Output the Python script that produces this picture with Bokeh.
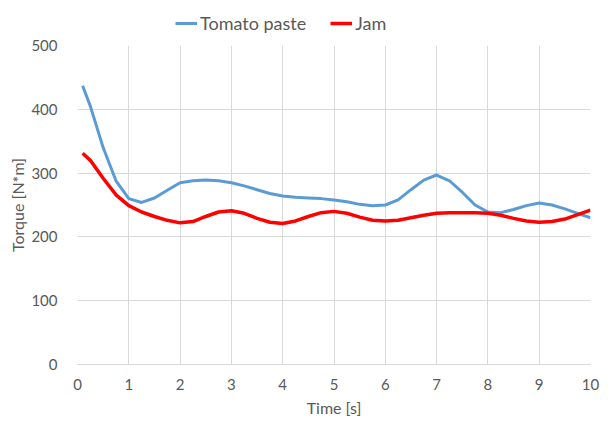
from bokeh.plotting import figure
from bokeh.layouts import column
from bokeh.models import Legend, LegendItem, Range1d, FixedTicker
from bokeh.embed import file_html
from bokeh.resources import INLINE

time_s = [0.1, 0.25, 0.5, 0.75, 1.0, 1.25, 1.5, 1.75, 2.0, 2.25, 2.5, 2.75, 3.0, 3.25, 3.5, 3.75,
          4.0, 4.25, 4.5, 4.75, 5.0, 5.25, 5.5, 5.75, 6.0, 6.25, 6.5, 6.75, 7.0, 7.25, 7.5, 7.75,
          8.0, 8.25, 8.5, 8.75, 9.0, 9.25, 9.5, 9.75, 10.0]
tomato_paste = [437, 405, 340, 288, 260, 254, 261, 273, 285, 288, 289, 288, 285, 280, 274, 268,
                264, 262, 261, 260, 258, 255, 251, 249, 250, 258, 274, 289, 297, 288, 270, 250,
                239, 238, 243, 249, 253, 250, 244, 237, 230]
jam = [331, 320, 292, 266, 249, 239, 232, 226, 222, 224, 232, 239, 241, 237, 229, 223,
       221, 225, 232, 238, 240, 237, 231, 226, 225, 226, 230, 234, 237, 238, 238, 238,
       237, 234, 229, 225, 223, 224, 228, 235, 242]
series_names = ["Tomato paste", "Jam"]
x_ticks = [0, 1, 2, 3, 4, 5, 6, 7, 8, 9, 10]
y_ticks = [0, 100, 200, 300, 400, 500]

FONT = "Lato"
TEXT = "#595959"
GRID = "#d9d9d9"
BLUE = "#5B9BD5"
RED = "#FF0000"

# legend strip (its lines lie outside its tiny range, only the legend shows)
top = figure(width=602, height=36, output_backend="svg", toolbar_location=None,
             x_axis_location=None, y_axis_location=None,
             min_border_left=0, min_border_right=0, min_border_top=0, min_border_bottom=0,
             x_range=Range1d(-2, -1), y_range=Range1d(-2, -1))
top.grid.visible = False
top.outline_line_color = None
l1 = top.line(time_s, tomato_paste, line_color=BLUE, line_width=3)
l2 = top.line(time_s, jam, line_color=RED, line_width=3.5)
legend = Legend(items=[LegendItem(label=series_names[0], renderers=[l1]),
                       LegendItem(label=series_names[1], renderers=[l2])],
                orientation="horizontal", location=(98, 2))
legend.label_text_font = FONT
legend.label_text_font_size = "18px"
legend.label_text_color = TEXT
legend.border_line_color = None
legend.background_fill_alpha = 0
legend.glyph_width = 22
legend.glyph_height = 20
legend.label_height = 20
legend.label_standoff = 3
legend.spacing = 24
legend.padding = 0
legend.margin = 0
top.add_layout(legend, "center")

p = figure(output_backend="svg", toolbar_location=None,
           frame_width=513, frame_height=319,
           x_range=Range1d(0, 10), y_range=Range1d(0, 500),
           min_border_left=77, min_border_right=12, min_border_top=9, min_border_bottom=60)
p.outline_line_color = None

p.line(time_s, tomato_paste, line_color=BLUE, line_width=3, line_join="round")
p.line(time_s, jam, line_color=RED, line_width=3.5, line_join="round")

p.xaxis.ticker = FixedTicker(ticks=x_ticks)
p.yaxis.ticker = FixedTicker(ticks=y_ticks)
for ax in (p.xaxis, p.yaxis):
    ax.major_tick_line_color = None
    ax.minor_tick_line_color = None
    ax.major_label_text_font = FONT
    ax.major_label_text_font_size = "15px"
    ax.major_label_text_color = TEXT
    ax.axis_label_text_font = FONT
    ax.axis_label_text_font_size = "16px"
    ax.axis_label_text_font_style = "normal"
    ax.axis_label_text_color = TEXT
p.yaxis.axis_line_color = None
p.xaxis.axis_line_color = GRID
p.xaxis.major_label_standoff = 8
p.yaxis.major_label_standoff = 14
p.xaxis.axis_label = "Time [s]"
p.yaxis.axis_label = "Torque [N*m]"
p.xaxis.axis_label_standoff = 5
p.yaxis.axis_label_standoff = 1

p.xgrid.grid_line_color = GRID
p.ygrid.grid_line_color = GRID

layout = column(top, p, spacing=0)
open("out.html", "w").write(file_html(layout, INLINE))
